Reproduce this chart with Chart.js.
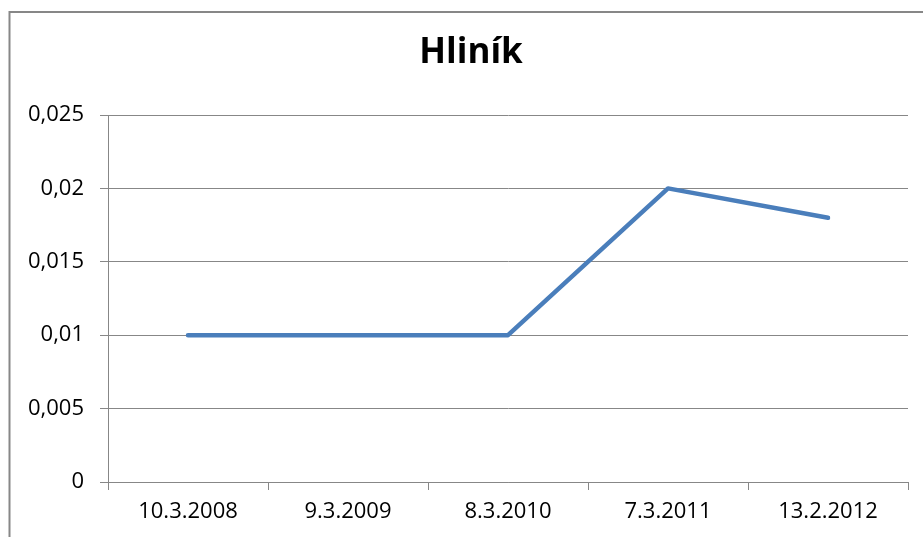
<!DOCTYPE html>
<html>
<head>
<meta charset="utf-8">
<title>Hliník</title>
<script src="https://cdn.jsdelivr.net/npm/chart.js@4"></script>
<style>
    html, body { margin: 0; padding: 0; background: #fff; }
    #wrap { width: 923px; height: 537px; }
</style>
</head>
<body>
<div id="wrap"><canvas id="myChart-1" width="923" height="537"></canvas></div>
<script>
var labels = ["10.3.2008", "9.3.2009", "8.3.2010", "7.3.2011", "13.2.2012"];
var values = [0.01, 0.01, 0.01, 0.02, 0.018];
var yTicks = [0, 0.005, 0.01, 0.015, 0.02, 0.025];

var gridColor = "#878787";

// grey frame round the whole chart, title centred inside it
var frame = {
    id: 'frame',
    afterLayout: function(chart) {
        if (chart.titleBlock) { chart.titleBlock.left = 34; }
    },
    beforeDraw: function(chart) {
        var ctx = chart.ctx;
        ctx.save();
        ctx.fillStyle = "#fff";
        ctx.fillRect(0, 0, chart.width, chart.height);
        ctx.strokeStyle = gridColor;
        ctx.lineWidth = 2;
        ctx.strokeRect(9.5, 12, 1000, 1000);
        ctx.restore();
    }
};

new Chart(document.getElementById("myChart-1").getContext("2d"), {
    type: 'line',

    // The data for our dataset
    data: {
        labels: labels,
        datasets: [{
            label: "Hliník",
            data: values,
            fill: false,
            borderColor: "#4a7ebb",
            borderWidth: 4.5,
            borderCapStyle: 'round',
            borderJoinStyle: 'round',
            pointRadius: 0,
            pointHoverRadius: 0,
            tension: 0
        }]
    },

    // Configuration options go here
    options: {
        responsive: false,
        animation: false,
        layout: {
            padding: { top: 12, right: 15, bottom: 0, left: 0 }
        },
        plugins: {
            legend: { display: false },
            tooltip: { enabled: false },
            title: {
                display: true,
                text: "Hliník",
                color: "#000",
                font: { family: "'Open Sans'", size: 35, weight: 'bold', lineHeight: 1.2 },
                padding: { top: 20, bottom: 41 }
            }
        },
        scales: {
            x: {
                offset: true,
                grid: {
                    offset: true,
                    drawOnChartArea: false,
                    drawTicks: true,
                    tickLength: 8,
                    color: gridColor,
                    lineWidth: 1
                },
                border: { display: true, color: gridColor, width: 1 },
                ticks: {
                    color: "#000",
                    padding: 9,
                    maxRotation: 0,
                    font: { family: "'Open Sans'", size: 22 }
                },
                afterFit: function(scale) { scale.height = 55; }
            },
            y: {
                min: 0,
                max: 0.025,
                afterBuildTicks: function(scale) {
                    scale.ticks = yTicks.map(function(v) { return { value: v }; });
                },
                grid: {
                    color: gridColor,
                    lineWidth: 1,
                    drawTicks: true,
                    tickLength: 8
                },
                border: { display: true, color: gridColor, width: 1 },
                ticks: {
                    color: "#000",
                    padding: 16,
                    font: { family: "'Open Sans'", size: 22 },
                    callback: function(v) {
                        return String(Math.round(v * 1000) / 1000).replace('.', ',');
                    }
                },
                afterFit: function(scale) { scale.width = 108; }
            }
        }
    },
    plugins: [frame]
});
</script>
</body>
</html>
